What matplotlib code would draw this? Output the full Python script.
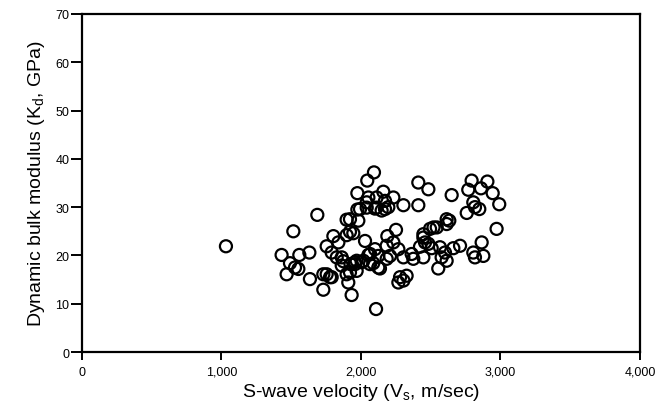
import numpy as np
import matplotlib
matplotlib.use('Agg')
import matplotlib.pyplot as plt
from matplotlib.ticker import FuncFormatter

# S-wave velocity (m/sec)
vs = [1032, 1431, 1467, 1491, 1515, 1527, 1551, 1558, 1630, 1634,
      1687, 1730, 1730, 1754, 1754, 1778, 1790, 1790, 1802, 1826,
      1838, 1862, 1862, 1873, 1897, 1897, 1897, 1909, 1921, 1921,
      1921, 1925, 1933, 1945, 1957, 1957, 1969, 1969, 1974, 1974,
      1981, 1993, 2005, 2017, 2029, 2041, 2041, 2045, 2053, 2053,
      2065, 2065, 2088, 2093, 2100, 2100, 2108, 2112, 2112, 2124,
      2124, 2136, 2148, 2160, 2172, 2172, 2184, 2184, 2189, 2196,
      2208, 2232, 2232, 2251, 2268, 2268, 2280, 2304, 2304, 2304,
      2327, 2363, 2375, 2411, 2411, 2423, 2447, 2447, 2447, 2459,
      2483, 2483, 2495, 2507, 2520, 2543, 2554, 2566, 2578, 2602,
      2614, 2614, 2614, 2633, 2650, 2662, 2710, 2758, 2769, 2793,
      2805, 2805, 2817, 2817, 2848, 2860, 2865, 2877, 2906, 2944,
      2972, 2991]

# dynamic bulk modulus (GPa)
kd = [21.9, 20.1, 16.1, 18.4, 25.0, 17.5, 17.2, 20.1, 20.6, 15.1,
      28.4, 16.1, 12.9, 21.9, 16.1, 15.5, 20.6, 15.5, 24.0, 19.6,
      22.7, 19.6, 17.9, 18.8, 27.4, 24.2, 16.1, 14.4, 27.5, 24.9,
      16.5, 18.2, 11.8, 24.6, 18.6, 18.2, 18.9, 16.8, 32.9, 29.5,
      27.2, 29.6, 18.6, 18.9, 23.0, 31.0, 29.9, 35.5, 32.0, 20.1,
      20.3, 18.2, 18.4, 37.2, 29.7, 21.3, 8.9, 32.0, 29.9, 19.9,
      17.5, 17.3, 29.3, 33.2, 31.3, 29.6, 22.0, 19.3, 24.0, 30.0,
      19.9, 32.0, 22.7, 25.3, 21.3, 14.4, 15.5, 30.4, 19.6, 14.8,
      15.8, 20.3, 19.3, 35.1, 30.4, 21.8, 24.4, 23.7, 19.6, 22.7,
      33.7, 22.4, 25.5, 21.5, 25.8, 25.8, 17.3, 21.7, 19.6, 20.6,
      27.5, 26.5, 18.9, 27.2, 32.5, 21.5, 22.0, 28.8, 33.6, 35.5,
      31.0, 20.6, 30.0, 19.6, 29.6, 33.9, 22.7, 19.9, 35.3, 32.9,
      25.5, 30.6]

x_ticks = [0, 1000, 2000, 3000, 4000]
y_ticks = [0, 10, 20, 30, 40, 50, 60, 70]

plt.rcParams['font.family'] = ['Liberation Sans', 'DejaVu Sans']

fig = plt.figure(figsize=(6.6, 4.14), dpi=100)
ax = fig.add_axes([0.1242, 0.1473, 0.8455, 0.8165])

ax.scatter(vs, kd, s=75, facecolors='none', edgecolors='black', linewidths=1.6, zorder=3)

ax.set_xlim(0, 4000)
ax.set_ylim(0, 70)
ax.set_xticks(x_ticks)
ax.set_yticks(y_ticks)
ax.xaxis.set_major_formatter(FuncFormatter(lambda v, p: f'{int(v):,}'))

for s in ax.spines.values():
    s.set_linewidth(1.6)
ax.tick_params(axis='y', direction='out', length=8, width=1.4, labelsize=9, pad=1)
ax.tick_params(axis='x', direction='out', length=6, width=1.4, labelsize=9, pad=4)

ax.set_xlabel(r'S-wave velocity (V$_\mathregular{s}$, m/sec)', fontsize=14, labelpad=2)
ax.set_ylabel(r'Dynamic bulk modulus (K$_\mathregular{d}$, GPa)', fontsize=14, labelpad=6)

fig.savefig('out.png', dpi=100)
